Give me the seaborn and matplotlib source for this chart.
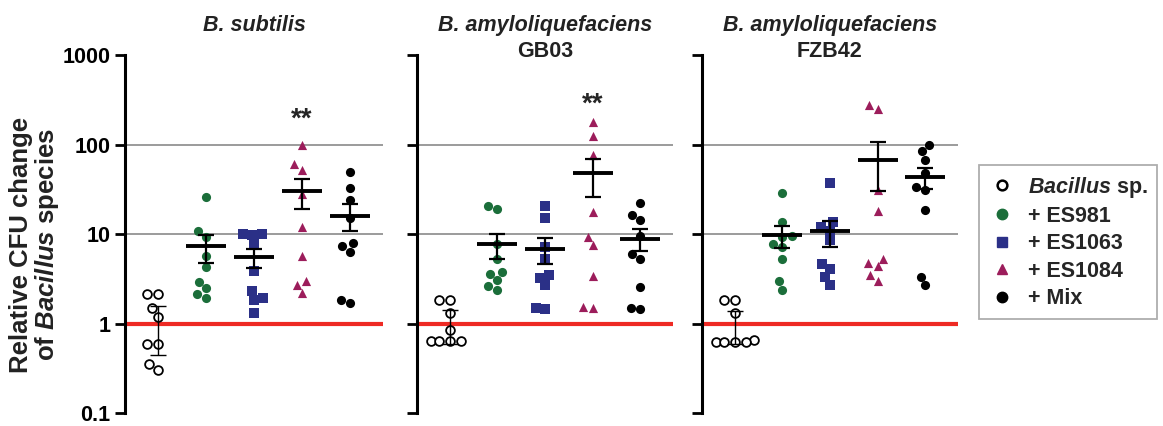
import numpy as np
import pandas as pd
import matplotlib
matplotlib.use("Agg")
import matplotlib.pyplot as plt
from matplotlib.lines import Line2D
from matplotlib.ticker import NullLocator
import seaborn as sns

sns.set_style("ticks")
plt.rcParams['font.family'] = ['Liberation Sans', 'DejaVu Sans']
plt.rcParams['font.weight'] = 'bold'
plt.rcParams['mathtext.fontset'] = 'custom'
plt.rcParams['mathtext.it'] = 'Liberation Sans:italic:bold'
plt.rcParams['mathtext.rm'] = 'Liberation Sans:bold'

# --- data ---
groups = ["Bacillus sp.", "+ ES981", "+ ES1063", "+ ES1084", "+ Mix"]
legend_labels = ["$Bacillus$ sp.", "+ ES981", "+ ES1063", "+ ES1084", "+ Mix"]
species = ["B. subtilis", "B. amyloliquefaciens", "B. amyloliquefaciens"]
strains = ["", "GB03", "FZB42"]

subtilis = [
    [2.12, 2.12, 1.5, 1.19, 0.6, 0.6, 0.35, 0.3],
    [26.2, 10.7, 9.3, 5.7, 4.3, 2.9, 2.5, 2.15, 1.94],
    [10.0, 10.0, 9.7, 7.7, 3.9, 2.3, 1.94, 1.83, 1.31],
    [100, 60, 52, 27.8, 11.9, 5.7, 3.0, 2.7, 2.2],
    [49.7, 33, 24, 15.3, 7.9, 7.3, 6.3, 1.85, 1.68],
]
gb03 = [
    [1.82, 1.82, 1.32, 0.84, 0.64, 0.64, 0.64, 0.64],
    [20.6, 19.0, 7.7, 5.3, 3.75, 3.6, 3.06, 2.6, 2.4],
    [20.6, 15.3, 7.2, 5.3, 3.5, 3.25, 2.67, 1.51, 1.44],
    [179, 125, 77, 17.6, 9.2, 7.5, 3.4, 1.53, 1.51],
    [22.1, 16.4, 14.4, 9.4, 6.0, 5.3, 2.55, 1.51, 1.44],
]
fzb42 = [
    [1.82, 1.82, 1.32, 0.66, 0.63, 0.63, 0.63, 0.63],
    [28.5, 13.8, 9.6, 9.2, 7.7, 7.1, 5.3, 3.0, 2.4],
    [37.5, 13.6, 12.0, 10.9, 8.6, 4.6, 4.1, 3.3, 2.7],
    [278, 247, 31, 18.2, 5.3, 4.7, 4.4, 3.5, 3.0],
    [100, 84, 67, 47.6, 33.3, 31, 18.6, 3.3, 2.67],
]

# mean +/- SEM as shown
means_subtilis = [1.0, 7.3, 5.5, 30.3, 16.1]
sem_subtilis = [0.555, 2.55, 1.35, 11.35, 5.3]
means_gb03 = [1.0, 7.7, 6.8, 47.6, 8.9]
sem_gb03 = [0.41, 2.4, 2.17, 21.45, 2.4]
means_fzb42 = [1.0, 9.7, 10.7, 68, 43]
sem_fzb42 = [0.4, 2.7, 3.45, 37.85, 11.2]

# significance marks: panel index -> (group index, height)
stars = {0: (3, 160), 1: (3, 235)}

colors = ["white", "#1b6e3a", "#2b3087", "#9c1d5b", "black"]
markers = ["o", "o", "s", "^", "o"]

# --- figure ---
fig = plt.figure(figsize=(11.63, 4.26), dpi=100)
lefts = [0.1075, 0.3586, 0.6036]
widths = [0.2218, 0.2201, 0.2201]
panels = [(subtilis, means_subtilis, sem_subtilis),
          (gb03, means_gb03, sem_gb03),
          (fzb42, means_fzb42, sem_fzb42)]

for i, (vals, means, sems) in enumerate(panels):
    ax = fig.add_axes([lefts[i], 0.03, widths[i], 0.841])
    ax.set_yscale('log')
    df = pd.DataFrame({
        'group': np.repeat(groups, [len(v) for v in vals]),
        'cfu': np.concatenate(vals),
    })

    ax.axhline(1, color='#ee2a24', lw=3, zorder=1)
    for yy in (10, 100):
        ax.axhline(yy, color='#808080', lw=1.1, zorder=1)

    for g, col, mk in zip(groups, colors, markers):
        sub = df[df['group'] == g]
        if g == groups[0]:
            sns.swarmplot(data=sub, x='group', y='cfu', order=groups, ax=ax,
                          color='white', edgecolor='black', linewidth=1.3,
                          size=6.3, marker=mk, zorder=3)
        else:
            sns.swarmplot(data=sub, x='group', y='cfu', order=groups, ax=ax,
                          color=col, size=6.6, marker=mk, zorder=3)

    xs = np.arange(len(groups))
    m = np.array(means)
    s = np.array(sems)
    ax.hlines(m[1:], xs[1:] - 0.42, xs[1:] + 0.42, color='black', lw=2.8, zorder=4)
    ax.errorbar(xs[1:], m[1:], yerr=s[1:], fmt='none', ecolor='black',
                elinewidth=1.6, capsize=6, capthick=1.6, zorder=4)
    ax.errorbar(xs[:1], m[:1], yerr=s[:1], fmt='none', ecolor='black',
                elinewidth=1.0, capsize=6, capthick=1.0, zorder=4)

    if i in stars:
        gx, gy = stars[i]
        ax.text(gx, gy, '**', ha='center', va='baseline', fontsize=20, fontweight='bold')

    ax.set_xlim(-0.69, 4.69)
    ax.set_ylim(0.1, 1000)
    ax.set_yticks([0.1, 1, 10, 100, 1000])
    ax.set_yticklabels(['0.1', '1', '10', '100', '1000'])
    ax.yaxis.set_minor_locator(NullLocator())
    ax.set_xticks([])
    ax.set_xlabel('')
    sns.despine(ax=ax, bottom=True)
    ax.spines['left'].set_linewidth(2.2)
    ax.spines['left'].set_color('black')
    ax.tick_params(axis='y', length=7, width=2, labelsize=15.5, direction='out',
                   color='black', labelcolor='black')
    if i == 0:
        ax.set_ylabel("Relative CFU change\nof $Bacillus$ species", fontsize=18.5,
                      fontweight='bold', linespacing=1.0, color='#222222')
        ax.yaxis.set_label_coords(-0.25, 0.47)
    else:
        ax.set_ylabel('')
        ax.tick_params(axis='y', labelleft=False)

    xc = lefts[i] + widths[i] / 2
    fig.text(xc, 0.927, species[i], ha='center', va='baseline', fontsize=15.5,
             fontstyle='italic', fontweight='bold', color='#222222')
    if strains[i]:
        fig.text(xc, 0.866, strains[i], ha='center', va='baseline', fontsize=15.5,
                 fontweight='bold', color='#222222')

handles = []
for col, mk in zip(colors, markers):
    if col == 'white':
        handles.append(Line2D([], [], ls='none', marker=mk, mfc='white', mec='black',
                              mew=1.8, ms=7))
    else:
        handles.append(Line2D([], [], ls='none', marker=mk, mfc=col, mec=col, ms=7.5))
leg = fig.legend(handles, legend_labels, loc='upper left', bbox_to_anchor=(0.842, 0.613),
                 frameon=True, fancybox=False, edgecolor='#9a9a9a', fontsize=15.5,
                 handletextpad=0.6, labelspacing=0.3, borderpad=0.45, handlelength=1.2,
                 borderaxespad=0)
leg.get_frame().set_linewidth(1.3)

fig.savefig("out.png", dpi=100)
